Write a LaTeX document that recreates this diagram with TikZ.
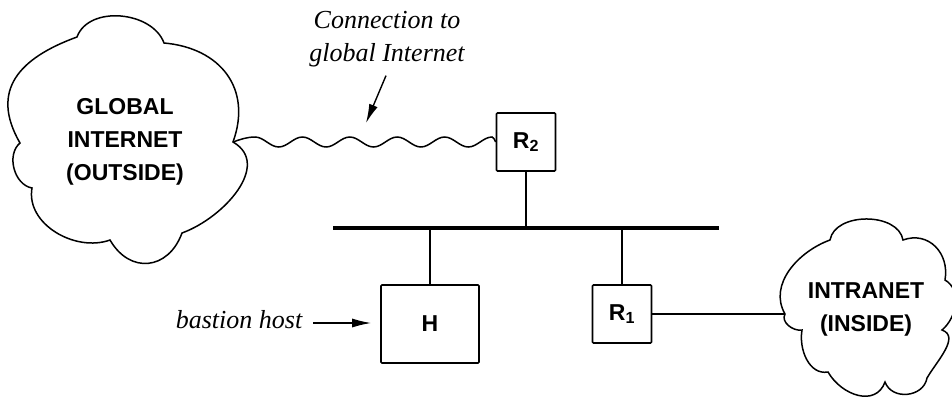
\documentclass[tikz,border=0pt]{standalone}
\usepackage{fontspec}
\setmainfont{Liberation Serif}
\setsansfont{Liberation Sans}
\usetikzlibrary{arrows.meta,positioning}

\begin{document}
\begin{tikzpicture}[x=1pt,y=1pt,line width=1.5pt,
  box/.style={draw,line width=1.6pt,rounded corners=1pt,minimum width=59pt,minimum height=58pt,inner sep=0pt,font=\sffamily\bfseries\fontsize{23}{23}\selectfont},
  cloudtxt/.style={align=center,inner sep=0pt,font=\sffamily\bfseries\fontsize{23}{33}\selectfont},
  note/.style={align=center,inner sep=0pt,font=\itshape\fontsize{26}{33}\selectfont},
  arr/.style={-{Latex[length=19pt,width=9pt]},line width=1.4pt}]
\useasboundingbox (0,0) rectangle (952,400);
% boxes on the network
\node[box] (R2) at (526,258) {R\textsubscript{2}};
\node[box,minimum width=98pt,minimum height=78pt] (H) at (430,76) {H};
\node[box] (R1) at (622,86) {R\textsubscript{1}};
\coordinate (busW) at (333,172); \coordinate (busE) at (719,172);
\draw[line width=3.5pt] (busW) -- (busE);
\draw (R2) -- (R2 |- busW); \draw (H) -- (H |- busW); \draw (R1) -- (R1 |- busW);
% outside cloud
\draw (77,363) to[out=70,in=110] (164,357) to[out=-5,in=70,looseness=1.2] (233,258) coordinate (outC)
  to[out=-30,in=20,looseness=1.1] (182,167) to[out=-110,in=-60,looseness=1.4] (110,160)
  to[out=200,in=260] (32,212) to[out=170,in=220] (20,257) to[out=120,in=200,looseness=1.3] (77,363) -- cycle;
\node[cloudtxt] (inet) at (125,258) {GLOBAL\\INTERNET\\(OUTSIDE)};
% inside cloud
\draw (830,160) to[out=80,in=100] (903,160) to[out=20,in=80,looseness=1.2] (945,120)
  to[out=-30,in=40] (942,70) to[out=-20,in=60] (927,22) to[out=-100,in=-70,looseness=1.2] (885,18)
  to[out=-110,in=-60,looseness=1.2] (828,28) to[out=190,in=260] (802,70) to[out=190,in=240] (785,86) coordinate (inC)
  to[out=120,in=200] (830,160) -- cycle;
\node[cloudtxt] (intra) at (866,91) {INTRANET\\(INSIDE)};
% links
\draw (outC) sin ++(22,5) \foreach \k in {1,...,5}{cos ++(11.85,-5) sin ++(11.85,-5) cos ++(11.85,5) sin ++(11.85,5)} cos (R2.west);
\draw (R1) -- (inC);
% labels
\node[note] (conn) at (387,361) {Connection to\\global Internet};
\coordinate (wavept) at (366,277);
\draw[arr] ([xshift=-1pt,yshift=-8pt]conn.south) -- (wavept);
\node[note,anchor=east] (bastion) at (303,80) {bastion host};
\draw[arr] ([xshift=10pt,yshift=-3pt]bastion.east) -- ([xshift=-9pt]H.west |- 0,77);
\end{tikzpicture}
\end{document}
